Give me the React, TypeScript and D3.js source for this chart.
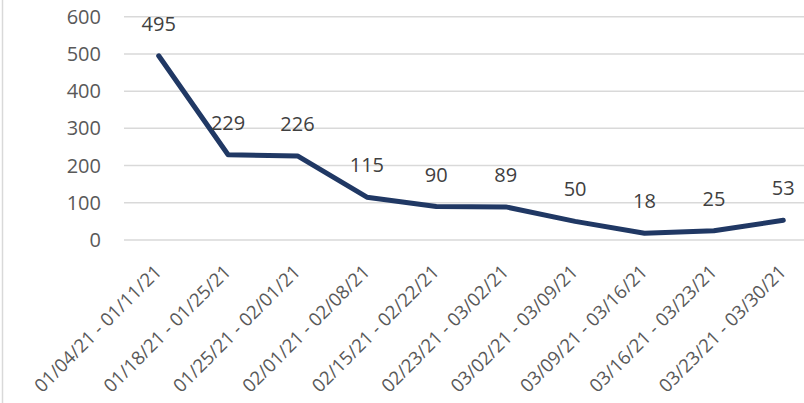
import { useEffect, useRef } from "react";
import * as d3 from "d3";

const categories = [
  "01/04/21 - 01/11/21",
  "01/18/21 - 01/25/21",
  "01/25/21 - 02/01/21",
  "02/01/21 - 02/08/21",
  "02/15/21 - 02/22/21",
  "02/23/21 - 03/02/21",
  "03/02/21 - 03/09/21",
  "03/09/21 - 03/16/21",
  "03/16/21 - 03/23/21",
  "03/23/21 - 03/30/21",
];
const values = [495, 229, 226, 115, 90, 89, 50, 18, 25, 53];
const yTicks = [0, 100, 200, 300, 400, 500, 600];

const FONT = "'Open Sans', sans-serif";

export default function App() {
  const ref = useRef<SVGSVGElement>(null);

  useEffect(() => {
    const el = ref.current;
    if (!el) return;
    const W = 804, H = 403;
    const M = { top: 16.7, left: 124, bottom: 240, right: 818 };
    const svg = d3.select(el);
    svg.selectAll("*").remove();

    // outer frame edge on the left
    svg.append("line").attr("x1", 2.5).attr("x2", 2.5).attr("y1", 0).attr("y2", H)
      .attr("stroke", "#d9d9d9").attr("stroke-width", 1.5);

    const x = d3.scaleBand<string>().domain(categories).range([M.left, M.right]);
    const cx = (c: string) => (x(c) ?? 0) + x.bandwidth() / 2;
    const y = d3.scaleLinear().domain([0, 600]).range([M.bottom, M.top]);

    // grid + y labels
    yTicks.forEach((t) => {
      svg.append("line").attr("x1", M.left).attr("x2", W).attr("y1", y(t)).attr("y2", y(t))
        .attr("stroke", "#d9d9d9").attr("stroke-width", 1.5);
      svg.append("text").attr("x", 101).attr("y", y(t) + 7).attr("text-anchor", "end")
        .attr("fill", "#595959").attr("font-size", 20).attr("font-family", FONT).text(t);
    });

    // x labels, rotated
    svg.append("g").selectAll("text").data(categories).join("text")
      .attr("transform", (d) => `translate(${cx(d) + 4},${273}) rotate(-45)`)
      .attr("text-anchor", "end").attr("fill", "#595959").attr("font-size", 18.6)
      .attr("font-family", FONT).text((d) => d);

    // series line
    const line = d3.line<number>().x((_d, i) => cx(categories[i])).y((d) => y(d));
    svg.append("path").datum(values).attr("fill", "none").attr("stroke", "#203864")
      .attr("stroke-width", 5).attr("stroke-linejoin", "round").attr("stroke-linecap", "round")
      .attr("d", line);

    // data labels
    svg.append("g").selectAll("text").data(values).join("text")
      .attr("x", (_d, i) => cx(categories[i])).attr("y", (d) => y(d) - 25)
      .attr("text-anchor", "middle").attr("fill", "#404040").attr("font-size", 20)
      .attr("font-family", FONT).text((d) => d);
  }, []);

  return (
    <svg ref={ref} width={804} height={403} style={{ position: "absolute", left: 0, top: 0, background: "#fff" }} />
  );
}
